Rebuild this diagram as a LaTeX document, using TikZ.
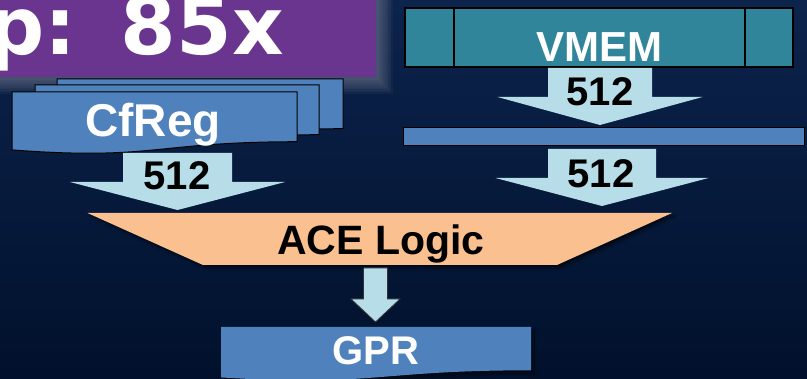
\documentclass[tikz,border=0pt]{standalone}
\usepackage{fontspec}
\setmainfont{Liberation Sans}
\newfontfamily\titlefont{DejaVu Sans}
\usetikzlibrary{calc,shadows.blur}

\definecolor{bgtop}{RGB}{12,35,76}
\definecolor{bgbot}{RGB}{1,17,44}
\definecolor{titlepurple}{RGB}{106,53,142}
\definecolor{glowgrey}{RGB}{150,150,165}
\definecolor{vmemteal}{RGB}{49,133,155}
\definecolor{regblue}{RGB}{79,129,189}
\definecolor{flowblue}{RGB}{183,222,232}
\definecolor{logicpeach}{RGB}{250,192,144}

\tikzset{
  lbl/.style={inner sep=0pt, anchor=base, font=\bfseries\fontsize{#1}{#1}\selectfont},
  lbl/.default=40,
  whitelbl/.style={lbl=#1, text=white},
  whitelbl/.default=40,
  blacklbl/.style={lbl=#1, text=black},
  blacklbl/.default=40,
  regbox/.style={fill=regblue, draw=black, line width=1pt},
  flow/.style={fill=flowblue},
  softshadow/.style={blur shadow={shadow xshift=3pt, shadow yshift=-3pt,
      shadow blur radius=3pt, shadow blur steps=6, shadow opacity=60}},
}

% Document-style box with a wavy bottom edge:
% #1 style, #2 left x, #3 top y, #4 width, #5 height
\newcommand\docshape[5]{%
  \path[#1] (#2,#3) -- (#2+#4,#3) -- (#2+#4,#3+0.802*#5)
    .. controls (#2+0.5*#4,#3+0.802*#5) and (#2+0.5*#4,#3+1.108*#5)
    .. (#2,#3+0.934*#5) -- cycle;}

% Vertical block arrow from #2 down to #3:
% #1 style, #4 shaft half width, #5 head half width, #6 head length
\newcommand\blockarrow[6]{%
  \path[#1] let \p1=(#2), \p2=(#3) in
    (\x1-#4pt,\y1) -- (\x1+#4pt,\y1) -- (\x1+#4pt,\y2+#6pt)
    -- (\x1+#5pt,\y2+#6pt) -- (\x1,\y2) -- (\x1-#5pt,\y2+#6pt)
    -- (\x1-#4pt,\y2+#6pt) -- cycle;}

\begin{document}
\begin{tikzpicture}[x=1pt, y=-1pt]
  \useasboundingbox (0,0) rectangle (807,379);
  \clip (0,0) rectangle (807,379);

  % background
  \shade[top color=bgtop, bottom color=bgbot] (0,0) rectangle (807,379);

  % title banner with its soft grey glow
  \foreach \i in {1,...,10}
    \fill[glowgrey, opacity=0.06] (0,0) rectangle (377+1.6*\i, 78+1.6*\i);
  \fill[titlepurple] (0,0) rectangle (376,77);
  \node[inner sep=0pt, anchor=base east, text=white,
        font=\titlefont\bfseries\fontsize{80}{80}\selectfont]
        (title) at (284,55) {p:\hspace{7pt} 85x};

  % stacked configuration registers
  \docshape{regbox}{57}{79}{286}{62}
  \docshape{regbox}{35}{85}{284}{62}
  \docshape{regbox}{12}{92}{285}{62}
  \node[whitelbl=46] (cfreg) at (153,137) {CfReg};

  % vector memory
  \draw[fill=vmemteal, draw=black, line width=1.3pt] (405,8) rectangle (793,67);
  \draw[black, line width=1.3pt] (454,8) -- (454,67) (745,8) -- (745,67);
  \node[whitelbl=42] (vmem) at (599,62) {VMEM};

  % intermediate buffer bar
  \draw[regbox] (403,128) rectangle (804,146);

  % connector end points
  \coordinate (cfreg-out) at (177.5,153);
  \coordinate (logic-in-l) at (177.5,210);
  \coordinate (vmem-out) at (600,68);
  \coordinate (bar-in) at (600,125);
  \coordinate (bar-out) at (602,149);
  \coordinate (logic-in-r) at (602,206);
  \coordinate (logic-out) at (375.5,268);
  \coordinate (gpr-in) at (375.5,322);

  % data-path arrows
  \blockarrow{flow}{cfreg-out}{logic-in-l}{54.5}{107.5}{28}
  \blockarrow{flow}{vmem-out}{bar-in}{52}{102.5}{28}
  \blockarrow{flow}{bar-out}{logic-in-r}{54}{106.5}{28}

  \node[blacklbl] (w-cfreg) at (177,190) {512};
  \node[blacklbl] (w-vmem) at (600,106) {512};
  \node[blacklbl] (w-bar) at (601,188) {512};

  % ACE logic
  \fill[logicpeach, softshadow] (87.5,213) -- (672,213) -- (557,265) -- (203,265) -- cycle;
  \node[blacklbl=41] (ace) at (381,255) {ACE Logic};

  \blockarrow{flow, draw=black!80, line width=0.8pt}{logic-out}{gpr-in}{12}{24.5}{23}

  % general purpose registers
  \docshape{fill=regblue, softshadow}{221}{327}{310}{54}
  \node[whitelbl] (gpr) at (376,365) {GPR};
\end{tikzpicture}
\end{document}
